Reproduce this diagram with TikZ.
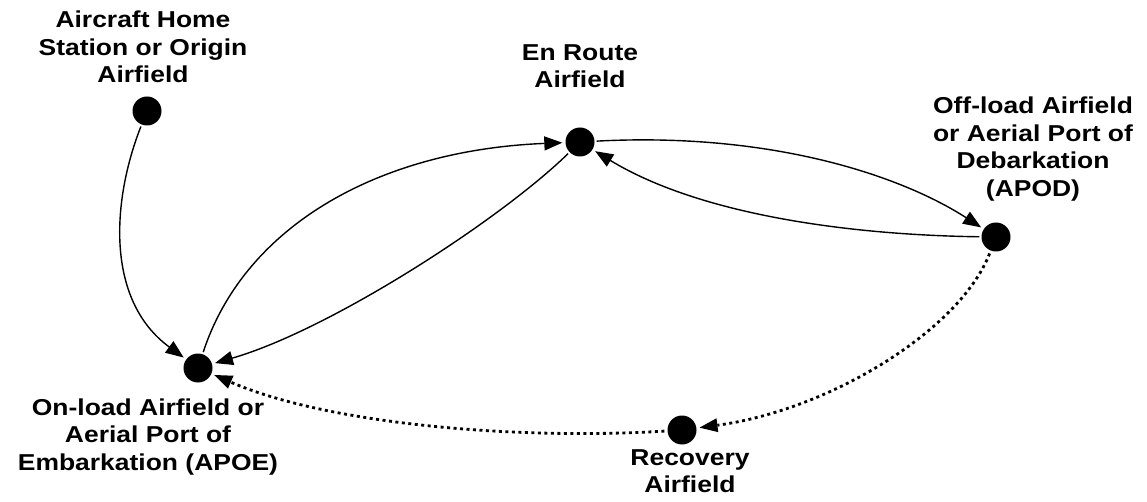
\documentclass[tikz,border=0pt]{standalone}
\usepackage{fontspec}
\setmainfont{Liberation Sans}[FakeStretch=1.15]
\usetikzlibrary{arrows.meta}
\begin{document}
\begin{tikzpicture}[x=1pt,y=-1pt,
  site/.style={circle,fill=black,inner sep=0pt,minimum size=29pt},
  lbl/.style={align=center,font=\fontsize{23}{27.5}\selectfont\bfseries,inner sep=0pt},
  flow/.style={line width=1.4pt,-{Triangle[length=18pt,width=14pt]},shorten >=3pt,shorten <=2pt},
  ret/.style={line width=2.8pt,dash pattern=on 3pt off 3.5pt,-{Triangle[length=18pt,width=14pt,line width=0pt]},shorten >=3pt,shorten <=3pt}]
\useasboundingbox (0,0) rectangle (1147,502);
\node[site] (home) at (147,111) {};
\node[site] (enroute) at (580,142) {};
\node[site] (apod) at (996,237) {};
\node[site] (apoe) at (198,368) {};
\node[site] (rec) at (682,430) {};
\node[lbl] (homel) at (143,47) {Aircraft Home\\Station or Origin\\Airfield};
\node[lbl] (enroutel) at (580,66) {En Route\\Airfield};
\node[lbl] (apodl) at (1033,149) {Off-load Airfield\\or Aerial Port of\\Debarkation\\(APOD)};
\node[lbl] (apoel) at (148,437) {On-load Airfield or\\Aerial Port of\\Embarkation (APOE)};
\node[lbl] (recl) at (690,471) {Recovery\\Airfield};
\draw[flow] (home) .. controls (112,200) and (105,300) .. (apoe);
\draw[flow] (apoe) .. controls (245,225) and (380,150) .. (enroute);
\draw[flow] (enroute) .. controls (500,220) and (330,330) .. (apoe);
\draw[flow] (enroute) .. controls (770,132) and (900,175) .. (apod);
\draw[flow] (apod) .. controls (850,235) and (700,215) .. (enroute);
\draw[ret] (apod) .. controls (960,330) and (830,410) .. (rec);
\draw[ret] (rec) .. controls (520,440) and (330,425) .. (apoe);
\end{tikzpicture}
\end{document}
